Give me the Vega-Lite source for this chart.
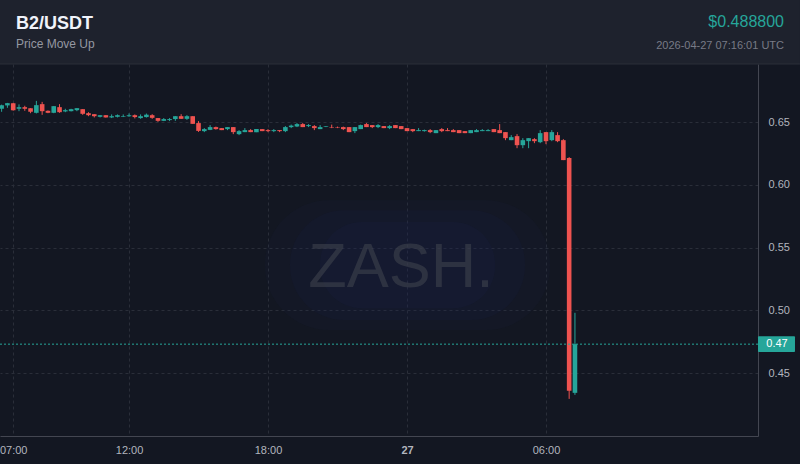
{
  "$schema": "https://vega.github.io/schema/vega-lite/v6.json",
  "width": 758,
  "height": 372,
  "autosize": {"type": "none"},
  "padding": {"left": 0, "top": 64, "right": 42, "bottom": 28},
  "background": "#131722",
  "view": {"stroke": null, "fill": "#131722"},
  "config": {"font": "Liberation Sans"},
  "datasets": {
    "candles": [
      {"t": "2026-04-26T06:30:00Z", "o": 0.6606, "h": 0.6639, "l": 0.6582, "c": 0.6635},
      {"t": "2026-04-26T06:45:00Z", "o": 0.6633, "h": 0.6653, "l": 0.6614, "c": 0.6651},
      {"t": "2026-04-26T07:00:00Z", "o": 0.6651, "h": 0.6653, "l": 0.6591, "c": 0.6595},
      {"t": "2026-04-26T07:15:00Z", "o": 0.6606, "h": 0.6641, "l": 0.6587, "c": 0.6619},
      {"t": "2026-04-26T07:30:00Z", "o": 0.6619, "h": 0.6630, "l": 0.6590, "c": 0.6606},
      {"t": "2026-04-26T07:45:00Z", "o": 0.6611, "h": 0.6611, "l": 0.6571, "c": 0.6582},
      {"t": "2026-04-26T08:00:00Z", "o": 0.6574, "h": 0.6669, "l": 0.6569, "c": 0.6635},
      {"t": "2026-04-26T08:15:00Z", "o": 0.6643, "h": 0.6661, "l": 0.6558, "c": 0.6587},
      {"t": "2026-04-26T08:30:00Z", "o": 0.6590, "h": 0.6593, "l": 0.6571, "c": 0.6574},
      {"t": "2026-04-26T08:45:00Z", "o": 0.6574, "h": 0.6627, "l": 0.6571, "c": 0.6627},
      {"t": "2026-04-26T09:00:00Z", "o": 0.6619, "h": 0.6643, "l": 0.6574, "c": 0.6579},
      {"t": "2026-04-26T09:15:00Z", "o": 0.6585, "h": 0.6606, "l": 0.6579, "c": 0.6595},
      {"t": "2026-04-26T09:30:00Z", "o": 0.6587, "h": 0.6606, "l": 0.6585, "c": 0.6603},
      {"t": "2026-04-26T09:45:00Z", "o": 0.6595, "h": 0.6611, "l": 0.6587, "c": 0.6611},
      {"t": "2026-04-26T10:00:00Z", "o": 0.6603, "h": 0.6603, "l": 0.6558, "c": 0.6566},
      {"t": "2026-04-26T10:15:00Z", "o": 0.6571, "h": 0.6579, "l": 0.6547, "c": 0.6555},
      {"t": "2026-04-26T10:30:00Z", "o": 0.6563, "h": 0.6563, "l": 0.6537, "c": 0.6547},
      {"t": "2026-04-26T10:45:00Z", "o": 0.6542, "h": 0.6555, "l": 0.6537, "c": 0.6555},
      {"t": "2026-04-26T11:00:00Z", "o": 0.6555, "h": 0.6555, "l": 0.6536, "c": 0.6537},
      {"t": "2026-04-26T11:15:00Z", "o": 0.6537, "h": 0.6561, "l": 0.6532, "c": 0.6547},
      {"t": "2026-04-26T11:30:00Z", "o": 0.6542, "h": 0.6561, "l": 0.6537, "c": 0.6555},
      {"t": "2026-04-26T11:45:00Z", "o": 0.6542, "h": 0.6561, "l": 0.6540, "c": 0.6547},
      {"t": "2026-04-26T12:00:00Z", "o": 0.6547, "h": 0.6569, "l": 0.6542, "c": 0.6555},
      {"t": "2026-04-26T12:15:00Z", "o": 0.6555, "h": 0.6561, "l": 0.6529, "c": 0.6540},
      {"t": "2026-04-26T12:30:00Z", "o": 0.6532, "h": 0.6561, "l": 0.6526, "c": 0.6547},
      {"t": "2026-04-26T12:45:00Z", "o": 0.6540, "h": 0.6568, "l": 0.6536, "c": 0.6559},
      {"t": "2026-04-26T13:00:00Z", "o": 0.6555, "h": 0.6563, "l": 0.6526, "c": 0.6534},
      {"t": "2026-04-26T13:15:00Z", "o": 0.6532, "h": 0.6532, "l": 0.6502, "c": 0.6510},
      {"t": "2026-04-26T13:30:00Z", "o": 0.6510, "h": 0.6532, "l": 0.6508, "c": 0.6524},
      {"t": "2026-04-26T13:45:00Z", "o": 0.6516, "h": 0.6532, "l": 0.6508, "c": 0.6524},
      {"t": "2026-04-26T14:00:00Z", "o": 0.6524, "h": 0.6547, "l": 0.6510, "c": 0.6547},
      {"t": "2026-04-26T14:15:00Z", "o": 0.6547, "h": 0.6563, "l": 0.6526, "c": 0.6526},
      {"t": "2026-04-26T14:30:00Z", "o": 0.6526, "h": 0.6555, "l": 0.6518, "c": 0.6547},
      {"t": "2026-04-26T14:45:00Z", "o": 0.6547, "h": 0.6547, "l": 0.6486, "c": 0.6486},
      {"t": "2026-04-26T15:00:00Z", "o": 0.6492, "h": 0.6508, "l": 0.6422, "c": 0.6430},
      {"t": "2026-04-26T15:15:00Z", "o": 0.6428, "h": 0.6452, "l": 0.6420, "c": 0.6444},
      {"t": "2026-04-26T15:30:00Z", "o": 0.6438, "h": 0.6476, "l": 0.6436, "c": 0.6460},
      {"t": "2026-04-26T15:45:00Z", "o": 0.6460, "h": 0.6464, "l": 0.6440, "c": 0.6444},
      {"t": "2026-04-26T16:00:00Z", "o": 0.6452, "h": 0.6452, "l": 0.6436, "c": 0.6436},
      {"t": "2026-04-26T16:15:00Z", "o": 0.6444, "h": 0.6460, "l": 0.6436, "c": 0.6460},
      {"t": "2026-04-26T16:30:00Z", "o": 0.6460, "h": 0.6460, "l": 0.6404, "c": 0.6420},
      {"t": "2026-04-26T16:45:00Z", "o": 0.6404, "h": 0.6436, "l": 0.6396, "c": 0.6428},
      {"t": "2026-04-26T17:00:00Z", "o": 0.6420, "h": 0.6452, "l": 0.6420, "c": 0.6436},
      {"t": "2026-04-26T17:15:00Z", "o": 0.6436, "h": 0.6444, "l": 0.6420, "c": 0.6420},
      {"t": "2026-04-26T17:30:00Z", "o": 0.6420, "h": 0.6444, "l": 0.6420, "c": 0.6444},
      {"t": "2026-04-26T17:45:00Z", "o": 0.6444, "h": 0.6444, "l": 0.6428, "c": 0.6428},
      {"t": "2026-04-26T18:00:00Z", "o": 0.6436, "h": 0.6444, "l": 0.6420, "c": 0.6428},
      {"t": "2026-04-26T18:15:00Z", "o": 0.6428, "h": 0.6444, "l": 0.6420, "c": 0.6436},
      {"t": "2026-04-26T18:30:00Z", "o": 0.6436, "h": 0.6436, "l": 0.6420, "c": 0.6428},
      {"t": "2026-04-26T18:45:00Z", "o": 0.6428, "h": 0.6468, "l": 0.6420, "c": 0.6460},
      {"t": "2026-04-26T19:00:00Z", "o": 0.6460, "h": 0.6480, "l": 0.6452, "c": 0.6472},
      {"t": "2026-04-26T19:15:00Z", "o": 0.6465, "h": 0.6492, "l": 0.6460, "c": 0.6484},
      {"t": "2026-04-26T19:30:00Z", "o": 0.6484, "h": 0.6492, "l": 0.6460, "c": 0.6460},
      {"t": "2026-04-26T19:45:00Z", "o": 0.6468, "h": 0.6484, "l": 0.6460, "c": 0.6476},
      {"t": "2026-04-26T20:00:00Z", "o": 0.6468, "h": 0.6476, "l": 0.6436, "c": 0.6452},
      {"t": "2026-04-26T20:15:00Z", "o": 0.6444, "h": 0.6476, "l": 0.6444, "c": 0.6460},
      {"t": "2026-04-26T20:30:00Z", "o": 0.6461, "h": 0.6468, "l": 0.6460, "c": 0.6466},
      {"t": "2026-04-26T20:45:00Z", "o": 0.6460, "h": 0.6480, "l": 0.6452, "c": 0.6456},
      {"t": "2026-04-26T21:00:00Z", "o": 0.6460, "h": 0.6464, "l": 0.6452, "c": 0.6456},
      {"t": "2026-04-26T21:15:00Z", "o": 0.6460, "h": 0.6464, "l": 0.6436, "c": 0.6444},
      {"t": "2026-04-26T21:30:00Z", "o": 0.6460, "h": 0.6460, "l": 0.6420, "c": 0.6420},
      {"t": "2026-04-26T21:45:00Z", "o": 0.6428, "h": 0.6460, "l": 0.6412, "c": 0.6460},
      {"t": "2026-04-26T22:00:00Z", "o": 0.6444, "h": 0.6480, "l": 0.6444, "c": 0.6476},
      {"t": "2026-04-26T22:15:00Z", "o": 0.6484, "h": 0.6492, "l": 0.6460, "c": 0.6460},
      {"t": "2026-04-26T22:30:00Z", "o": 0.6476, "h": 0.6476, "l": 0.6452, "c": 0.6460},
      {"t": "2026-04-26T22:45:00Z", "o": 0.6460, "h": 0.6484, "l": 0.6452, "c": 0.6476},
      {"t": "2026-04-26T23:00:00Z", "o": 0.6468, "h": 0.6468, "l": 0.6452, "c": 0.6452},
      {"t": "2026-04-26T23:15:00Z", "o": 0.6452, "h": 0.6476, "l": 0.6444, "c": 0.6468},
      {"t": "2026-04-26T23:30:00Z", "o": 0.6476, "h": 0.6476, "l": 0.6452, "c": 0.6452},
      {"t": "2026-04-26T23:45:00Z", "o": 0.6468, "h": 0.6468, "l": 0.6444, "c": 0.6444},
      {"t": "2026-04-27T00:00:00Z", "o": 0.6452, "h": 0.6452, "l": 0.6428, "c": 0.6428},
      {"t": "2026-04-27T00:15:00Z", "o": 0.6444, "h": 0.6444, "l": 0.6420, "c": 0.6428},
      {"t": "2026-04-27T00:30:00Z", "o": 0.6428, "h": 0.6452, "l": 0.6428, "c": 0.6436},
      {"t": "2026-04-27T00:45:00Z", "o": 0.6428, "h": 0.6440, "l": 0.6424, "c": 0.6436},
      {"t": "2026-04-27T01:00:00Z", "o": 0.6436, "h": 0.6444, "l": 0.6412, "c": 0.6420},
      {"t": "2026-04-27T01:15:00Z", "o": 0.6412, "h": 0.6436, "l": 0.6412, "c": 0.6436},
      {"t": "2026-04-27T01:30:00Z", "o": 0.6444, "h": 0.6452, "l": 0.6420, "c": 0.6428},
      {"t": "2026-04-27T01:45:00Z", "o": 0.6436, "h": 0.6452, "l": 0.6428, "c": 0.6428},
      {"t": "2026-04-27T02:00:00Z", "o": 0.6436, "h": 0.6444, "l": 0.6420, "c": 0.6420},
      {"t": "2026-04-27T02:15:00Z", "o": 0.6436, "h": 0.6436, "l": 0.6412, "c": 0.6412},
      {"t": "2026-04-27T02:30:00Z", "o": 0.6428, "h": 0.6428, "l": 0.6412, "c": 0.6412},
      {"t": "2026-04-27T02:45:00Z", "o": 0.6412, "h": 0.6436, "l": 0.6412, "c": 0.6436},
      {"t": "2026-04-27T03:00:00Z", "o": 0.6420, "h": 0.6444, "l": 0.6420, "c": 0.6436},
      {"t": "2026-04-27T03:15:00Z", "o": 0.6428, "h": 0.6444, "l": 0.6428, "c": 0.6436},
      {"t": "2026-04-27T03:30:00Z", "o": 0.6428, "h": 0.6444, "l": 0.6428, "c": 0.6436},
      {"t": "2026-04-27T03:45:00Z", "o": 0.6444, "h": 0.6444, "l": 0.6420, "c": 0.6420},
      {"t": "2026-04-27T04:00:00Z", "o": 0.6436, "h": 0.6484, "l": 0.6412, "c": 0.6412},
      {"t": "2026-04-27T04:15:00Z", "o": 0.6420, "h": 0.6420, "l": 0.6356, "c": 0.6372},
      {"t": "2026-04-27T04:30:00Z", "o": 0.6356, "h": 0.6396, "l": 0.6356, "c": 0.6380},
      {"t": "2026-04-27T04:45:00Z", "o": 0.6388, "h": 0.6404, "l": 0.6292, "c": 0.6316},
      {"t": "2026-04-27T05:00:00Z", "o": 0.6316, "h": 0.6372, "l": 0.6292, "c": 0.6356},
      {"t": "2026-04-27T05:15:00Z", "o": 0.6348, "h": 0.6372, "l": 0.6292, "c": 0.6372},
      {"t": "2026-04-27T05:30:00Z", "o": 0.6364, "h": 0.6372, "l": 0.6332, "c": 0.6348},
      {"t": "2026-04-27T05:45:00Z", "o": 0.6340, "h": 0.6436, "l": 0.6332, "c": 0.6412},
      {"t": "2026-04-27T06:00:00Z", "o": 0.6420, "h": 0.6420, "l": 0.6324, "c": 0.6348},
      {"t": "2026-04-27T06:15:00Z", "o": 0.6356, "h": 0.6436, "l": 0.6348, "c": 0.6420},
      {"t": "2026-04-27T06:30:00Z", "o": 0.6396, "h": 0.6420, "l": 0.6340, "c": 0.6348},
      {"t": "2026-04-27T06:45:00Z", "o": 0.6356, "h": 0.6364, "l": 0.6197, "c": 0.6197},
      {"t": "2026-04-27T07:00:00Z", "o": 0.6213, "h": 0.6221, "l": 0.4294, "c": 0.4358},
      {"t": "2026-04-27T07:15:00Z", "o": 0.4342, "h": 0.4980, "l": 0.4326, "c": 0.4730}
    ]
  },
  "layer": [
    {
      "data": {"values": [{"k": "header"}]},
      "mark": {"type": "rect", "color": "#1e222d"},
      "encoding": {
        "x": {"datum": {"year": 2026, "month": 4, "date": 26, "hours": 6, "minutes": 25, "seconds": 49, "utc": true}, "type": "temporal",
              "scale": {"type": "utc", "padding": 0, "domain": [{"year": 2026, "month": 4, "date": 26, "hours": 6, "minutes": 25, "seconds": 49, "utc": true}, {"year": 2026, "month": 4, "date": 27, "hours": 15, "minutes": 9, "seconds": 7, "utc": true}]},
              "axis": {
                "values": [
                  {"year": 2026, "month": 4, "date": 26, "hours": 7, "utc": true},
                  {"year": 2026, "month": 4, "date": 26, "hours": 12, "utc": true},
                  {"year": 2026, "month": 4, "date": 26, "hours": 18, "utc": true},
                  {"year": 2026, "month": 4, "date": 27, "hours": 0, "utc": true},
                  {"year": 2026, "month": 4, "date": 27, "hours": 6, "utc": true}
                ],
                "title": null,
                "labelExpr": "utchours(datum.value) == 0 ? utcFormat(datum.value, '%d') : utcFormat(datum.value, '%H:%M')",
                "labelFontWeight": {"condition": {"test": "utchours(datum.value) == 0", "value": "bold"}, "value": "normal"},
                "labelColor": "#b2b5be",
                "labelFontSize": 11,
                "labelPadding": 8,
                "labelFlush": false,
                "labelOverlap": false,
                "ticks": false,
                "domainColor": "#434651",
                "grid": true,
                "gridColor": "#2a2e39",
                "gridDash": [3, 3]
              }},
        "x2": {"datum": {"year": 2026, "month": 4, "date": 27, "hours": 16, "minutes": 57, "seconds": 54, "utc": true}},
        "y": {"datum": 0.6963, "type": "quantitative",
              "scale": {"domain": [0.3998, 0.6963], "nice": false, "zero": false, "padding": 0},
              "axis": {
                "orient": "right",
                "values": [0.45, 0.5, 0.55, 0.6, 0.65],
                "format": ".2f",
                "title": null,
                "labelColor": "#b2b5be",
                "labelFontSize": 11,
                "labelPadding": 10,
                "ticks": false,
                "domainColor": "#434651",
                "grid": true,
                "gridColor": "#2a2e39",
                "gridDash": [3, 3]
              }},
        "y2": {"datum": 0.7473}
      }
    },
    {
      "data": {"values": [{"k": "border"}]},
      "mark": {"type": "rule", "color": "#2a2e39", "strokeWidth": 1},
      "encoding": {
        "x": {"datum": {"year": 2026, "month": 4, "date": 26, "hours": 6, "minutes": 25, "seconds": 49, "utc": true}, "type": "temporal"},
        "x2": {"datum": {"year": 2026, "month": 4, "date": 27, "hours": 16, "minutes": 57, "seconds": 54, "utc": true}},
        "y": {"datum": 0.6963, "type": "quantitative"}
      }
    },
    {
      "data": {"values": [{"label": "B2/USDT"}]},
      "mark": {"type": "text", "align": "left", "baseline": "alphabetic", "fontSize": 18, "fontWeight": "bold", "color": "#f0f3fa"},
      "encoding": {
        "x": {"datum": {"year": 2026, "month": 4, "date": 26, "hours": 7, "minutes": 7, "seconds": 15, "utc": true}, "type": "temporal"},
        "y": {"datum": 0.7242, "type": "quantitative"},
        "text": {"field": "label"}
      }
    },
    {
      "data": {"values": [{"label": "Price Move Up"}]},
      "mark": {"type": "text", "align": "left", "baseline": "alphabetic", "fontSize": 12, "color": "#9598a1"},
      "encoding": {
        "x": {"datum": {"year": 2026, "month": 4, "date": 26, "hours": 7, "minutes": 7, "seconds": 15, "utc": true}, "type": "temporal"},
        "y": {"datum": 0.7091, "type": "quantitative"},
        "text": {"field": "label"}
      }
    },
    {
      "data": {"values": [{"label": "$0.488800"}]},
      "mark": {"type": "text", "align": "right", "baseline": "alphabetic", "fontSize": 16, "color": "#26a69a"},
      "encoding": {
        "x": {"datum": {"year": 2026, "month": 4, "date": 27, "hours": 16, "minutes": 16, "seconds": 26, "utc": true}, "type": "temporal"},
        "y": {"datum": 0.7258, "type": "quantitative"},
        "text": {"field": "label"}
      }
    },
    {
      "data": {"values": [{"label": "2026-04-27 07:16:01 UTC"}]},
      "mark": {"type": "text", "align": "right", "baseline": "alphabetic", "fontSize": 11, "color": "#787b86"},
      "encoding": {
        "x": {"datum": {"year": 2026, "month": 4, "date": 27, "hours": 16, "minutes": 16, "seconds": 26, "utc": true}, "type": "temporal"},
        "y": {"datum": 0.7083, "type": "quantitative"},
        "text": {"field": "label"}
      }
    },
    {
      "data": {"values": [{"k": "glow1"}]},
      "mark": {"type": "rect", "color": "#1c2452", "opacity": 0.1, "cornerRadius": 64},
      "encoding": {
        "x": {"datum": {"year": 2026, "month": 4, "date": 26, "hours": 17, "minutes": 52, "seconds": 12, "utc": true}, "type": "temporal"},
        "x2": {"datum": {"year": 2026, "month": 4, "date": 27, "hours": 6, "minutes": 10, "seconds": 23, "utc": true}},
        "y": {"datum": 0.5878, "type": "quantitative"},
        "y2": {"datum": 0.4842}
      }
    },
    {
      "data": {"values": [{"k": "glow2"}]},
      "mark": {"type": "rect", "color": "#1c2452", "opacity": 0.12, "cornerRadius": 54},
      "encoding": {
        "x": {"datum": {"year": 2026, "month": 4, "date": 26, "hours": 18, "minutes": 56, "seconds": 56, "utc": true}, "type": "temporal"},
        "x2": {"datum": {"year": 2026, "month": 4, "date": 27, "hours": 5, "minutes": 5, "seconds": 38, "utc": true}},
        "y": {"datum": 0.5798, "type": "quantitative"},
        "y2": {"datum": 0.4922}
      }
    },
    {
      "data": {"values": [{"k": "glow3"}]},
      "mark": {"type": "rect", "color": "#1c2452", "opacity": 0.14, "cornerRadius": 42},
      "encoding": {
        "x": {"datum": {"year": 2026, "month": 4, "date": 26, "hours": 20, "minutes": 14, "seconds": 39, "utc": true}, "type": "temporal"},
        "x2": {"datum": {"year": 2026, "month": 4, "date": 27, "hours": 3, "minutes": 47, "seconds": 54, "utc": true}},
        "y": {"datum": 0.5703, "type": "quantitative"},
        "y2": {"datum": 0.5017}
      }
    },
    {
      "data": {"values": [{"label": "ZASH."}]},
      "mark": {"type": "text", "align": "center", "baseline": "middle", "fontSize": 63, "font": "Liberation Sans", "color": "#3b3f4b", "opacity": 0.65},
      "encoding": {
        "x": {"datum": {"year": 2026, "month": 4, "date": 26, "hours": 23, "minutes": 44, "seconds": 27, "utc": true}, "type": "temporal"},
        "y": {"datum": 0.5336, "type": "quantitative"},
        "text": {"field": "label"}
      }
    },
    {
      "data": {"name": "candles"},
      "mark": {"type": "rule", "strokeWidth": 1},
      "encoding": {
        "x": {"field": "t", "type": "temporal"},
        "y": {"field": "l", "type": "quantitative"},
        "y2": {"field": "h"},
        "color": {"condition": {"test": "datum.c >= datum.o", "value": "#26a69a"}, "value": "#ef5350"}
      }
    },
    {
      "data": {"name": "candles"},
      "mark": {"type": "bar", "size": 4.6},
      "encoding": {
        "x": {"field": "t", "type": "temporal"},
        "y": {"field": "o", "type": "quantitative"},
        "y2": {"field": "c"},
        "color": {"condition": {"test": "datum.c >= datum.o", "value": "#26a69a"}, "value": "#ef5350"}
      }
    },
    {
      "data": {"values": [{"last": 0.4730}]},
      "mark": {"type": "rule", "color": "#26a69a", "strokeWidth": 1, "strokeDash": [2, 2]},
      "encoding": {
        "y": {"field": "last", "type": "quantitative"}
      }
    },
    {
      "data": {"values": [{"last": 0.4730, "lo": 0.4667, "hi": 0.4794}]},
      "mark": {"type": "rect", "color": "#26a69a", "cornerRadius": 1},
      "encoding": {
        "x": {"datum": {"year": 2026, "month": 4, "date": 27, "hours": 15, "minutes": 9, "seconds": 7, "utc": true}, "type": "temporal"},
        "x2": {"datum": {"year": 2026, "month": 4, "date": 27, "hours": 16, "minutes": 44, "seconds": 56, "utc": true}},
        "y": {"field": "lo", "type": "quantitative"},
        "y2": {"field": "hi"}
      }
    },
    {
      "data": {"values": [{"last": 0.4730}]},
      "mark": {"type": "text", "align": "center", "baseline": "middle", "fontSize": 11, "color": "#ffffff"},
      "encoding": {
        "x": {"datum": {"year": 2026, "month": 4, "date": 27, "hours": 15, "minutes": 58, "seconds": 20, "utc": true}, "type": "temporal"},
        "y": {"field": "last", "type": "quantitative"},
        "text": {"field": "last", "type": "quantitative", "format": ".2f"}
      }
    }
  ]
}
